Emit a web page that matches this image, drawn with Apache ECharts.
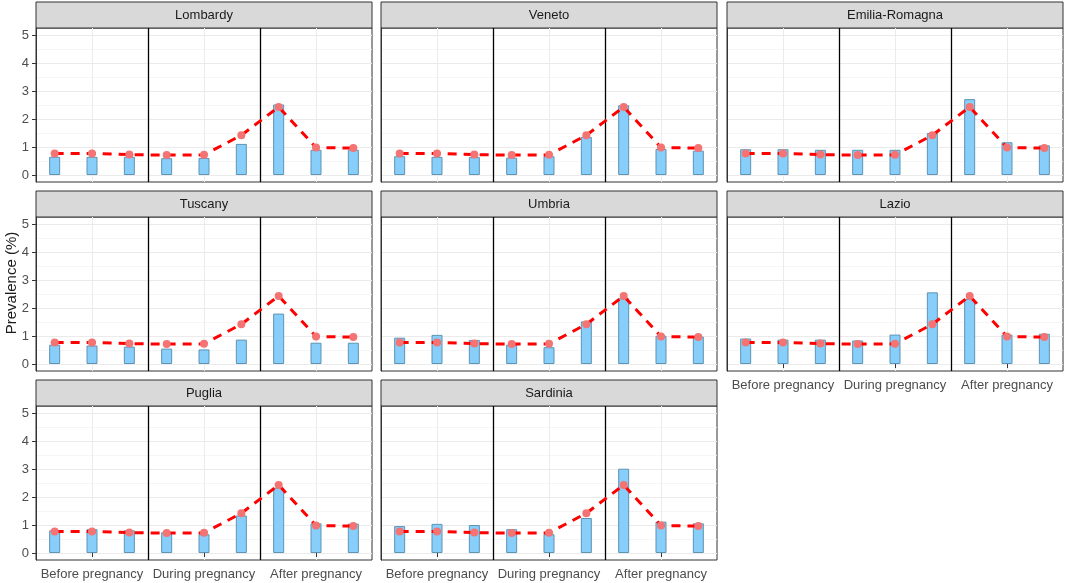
<!DOCTYPE html>
<html>
<head>
<meta charset="utf-8">
<script src="https://cdn.jsdelivr.net/npm/echarts@6/dist/echarts.min.js"></script>
<style>
html, body { margin: 0; padding: 0; background: #fff; }
#main { width: 1065px; height: 583px; }
</style>
</head>
<body>
<div id="main"></div>
<script>
// x axis groups, 3 bars each
var periods = ['Before pregnancy', 'During pregnancy', 'After pregnancy'];
var regions = ['Lombardy', 'Veneto', 'Emilia-Romagna', 'Tuscany', 'Umbria', 'Lazio', 'Puglia', 'Sardinia'];

// reference line (red dashed), same in every panel
var italy    = [0.77, 0.77, 0.73, 0.71, 0.72, 1.42, 2.43, 0.98, 0.96];

// bars per region
var lombardy = [0.65, 0.65, 0.65, 0.60, 0.61, 1.11, 2.52, 0.90, 0.90];
var veneto   = [0.67, 0.65, 0.64, 0.62, 0.67, 1.36, 2.49, 0.93, 0.87];
var emilia   = [0.92, 0.92, 0.90, 0.90, 0.90, 1.50, 2.71, 1.17, 1.06];
var tuscany  = [0.69, 0.66, 0.62, 0.55, 0.52, 0.87, 1.80, 0.76, 0.76];
var umbria   = [0.94, 1.04, 0.86, 0.69, 0.60, 1.52, 2.35, 1.01, 0.98];
var lazio    = [0.91, 0.87, 0.87, 0.84, 1.05, 2.56, 2.32, 1.05, 1.08];
var puglia   = [0.81, 0.85, 0.81, 0.74, 0.67, 1.34, 2.33, 1.06, 1.05];
var sardinia = [0.96, 1.04, 1.00, 0.85, 0.67, 1.25, 3.01, 1.12, 1.06];

var yTicks = [0, 1, 2, 3, 4, 5];
var yMinor = [0.5, 1.5, 2.5, 3.5, 4.5];

var values = [lombardy, veneto, emilia, tuscany, umbria, lazio, puglia, sardinia];

// layout of the facets
var colLeft = [36, 381, 727];
var panelW = 336;
var stripTop = [2, 191, 380];
var stripH = 26;
var panelH = 154;
var font = 'Liberation Sans, Arial, sans-serif';

// 9 slots on the x axis
var slots = [];
periods.forEach(function (p) {
    for (var k = 1; k <= 3; k++) slots.push(p + '|' + k);
});
var centers = periods.map(function (p, k) { return 3 * k + 1.5; });
var seps = periods.slice(1).map(function (p, k) { return 3 * (k + 1); });
var midSlot = function (idx) { return idx % 3 === 1; };

var chart = echarts.init(document.getElementById('main'));

var grids = [], xAxes = [], yAxes = [], series = [], graphics = [];

regions.forEach(function (name, i) {
    var r = Math.floor(i / 3), c = i % 3;
    var top = stripTop[r] + stripH;
    var bottomRow = (i + 3 >= regions.length);
    var leftCol = (c === 0);

    grids.push({
        left: colLeft[c], top: top, width: panelW, height: panelH,
        show: true, borderColor: '#333333', borderWidth: 1, backgroundColor: '#fff'
    });

    // category axis for the bars
    xAxes.push({
        type: 'category', gridIndex: i, data: slots, boundaryGap: true,
        axisLine: { show: false },
        splitLine: { show: false },
        axisTick: { show: bottomRow, alignWithLabel: true, interval: midSlot, length: 4, lineStyle: { color: '#333333' } },
        axisLabel: {
            show: bottomRow, interval: midSlot, margin: 8,
            color: '#4D4D4D', fontSize: 13, fontFamily: font,
            formatter: function (v) { return v.split('|')[0]; }
        }
    });
    // grey grid at group centres
    xAxes.push({
        type: 'value', gridIndex: i, min: 0, max: 9,
        axisLine: { show: false }, axisLabel: { show: false },
        axisTick: { show: false, customValues: centers },
        splitLine: { show: true, lineStyle: { color: '#EBEBEB', width: 1 } }
    });
    // black separators between groups
    xAxes.push({
        type: 'value', gridIndex: i, min: 0, max: 9, z: 1,
        axisLine: { show: false }, axisLabel: { show: false },
        axisTick: { show: false, customValues: seps },
        splitLine: { show: true, lineStyle: { color: '#000000', width: 1.3 } }
    });

    yAxes.push({
        type: 'value', gridIndex: i, min: -0.25, max: 5.25, position: 'left',
        axisLine: { show: true, lineStyle: { color: '#333333', width: 1 } },
        axisTick: { show: leftCol, customValues: yTicks, length: 4, lineStyle: { color: '#333333', width: 1 } },
        axisLabel: { show: leftCol, customValues: yTicks, margin: 7, color: '#4D4D4D', fontSize: 13, fontFamily: font },
        splitLine: { show: true, lineStyle: { color: '#EBEBEB', width: 1.1 } }
    });
    yAxes.push({
        type: 'value', gridIndex: i, min: -0.25, max: 5.25,
        axisLine: { show: false }, axisLabel: { show: false },
        axisTick: { show: false, customValues: yMinor },
        splitLine: { show: true, lineStyle: { color: '#F2F2F2', width: 0.8 } }
    });

    series.push({
        type: 'bar', name: name,
        xAxisIndex: 3 * i, yAxisIndex: 2 * i,
        data: values[i], barWidth: 11, z: 2,
        itemStyle: { color: '#87CEFA', borderColor: '#5E93B3', borderWidth: 1 },
        emphasis: { disabled: true }
    });
    series.push({
        type: 'line', name: 'Italy',
        xAxisIndex: 3 * i, yAxisIndex: 2 * i,
        data: italy, z: 3,
        symbol: 'circle', symbolSize: 8, showSymbol: true,
        lineStyle: { color: '#FF0000', width: 3, type: [9, 7] },
        itemStyle: { color: '#F47474', borderWidth: 0 },
        emphasis: { disabled: true }
    });

    // facet strip
    graphics.push({
        type: 'rect',
        shape: { x: colLeft[c], y: stripTop[r], width: panelW, height: stripH },
        style: { fill: '#D9D9D9', stroke: '#333333', lineWidth: 1 }
    });
    graphics.push({
        type: 'text',
        x: colLeft[c] + panelW / 2, y: stripTop[r] + stripH / 2,
        style: {
            text: name, fill: '#1A1A1A', font: '13px ' + font,
            textAlign: 'center', textVerticalAlign: 'middle', align: 'center', verticalAlign: 'middle'
        }
    });
});

// y axis title
graphics.push({
    type: 'text', x: 12, y: 283, rotation: Math.PI / 2,
    style: {
        text: 'Prevalence (%)', fill: '#1A1A1A', font: '15px ' + font,
        textAlign: 'center', textVerticalAlign: 'middle', align: 'center', verticalAlign: 'middle'
    }
});

chart.setOption({
    animation: false,
    backgroundColor: '#ffffff',
    grid: grids,
    xAxis: xAxes,
    yAxis: yAxes,
    series: series,
    graphic: graphics
});
</script>
</body>
</html>
